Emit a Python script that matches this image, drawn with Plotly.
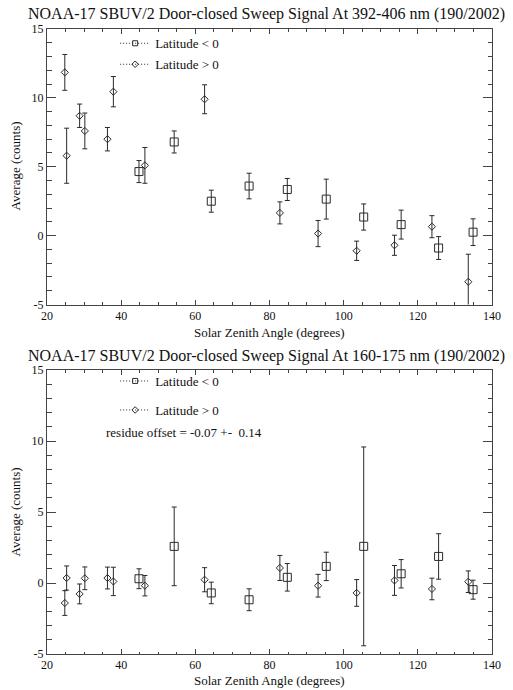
import plotly.graph_objects as go

# ---- Solar zenith angle bins (degrees) ----
SZA_SOUTH = [44.8, 54.3, 64.3, 74.5, 84.8, 95.3, 105.4, 115.5, 125.6, 134.9]
SZA_NORTH = [24.8, 25.3, 28.8, 30.2, 36.3, 37.9, 46.4, 62.5, 82.8, 93.1, 103.5, 113.7, 123.8, 133.6]

# ---- 392-406 nm averages (counts) and 1-sigma errors ----
UV_SOUTH = [4.65, 6.8, 2.5, 3.6, 3.35, 2.65, 1.35, 0.8, -0.9, 0.25]
UV_SOUTH_ERR = [0.8, 0.8, 0.8, 0.93, 0.8, 1.45, 0.95, 1.05, 0.83, 0.97]
UV_NORTH = [11.85, 5.8, 8.7, 7.6, 7.0, 10.45, 5.1, 9.9, 1.65, 0.15, -1.1, -0.7, 0.65, -3.35]
UV_NORTH_ERR = [1.3, 2.0, 0.85, 1.3, 0.85, 1.1, 1.3, 1.05, 0.8, 0.95, 0.7, 0.73, 0.8, 2.0]

# ---- 160-175 nm averages (counts) and 1-sigma errors ----
FUV_SOUTH = [0.3, 2.58, -0.7, -1.18, 0.4, 1.17, 2.58, 0.65, 1.87, -0.47]
FUV_SOUTH_ERR = [0.7, 2.77, 0.76, 0.77, 0.97, 1.0, 7.0, 1.0, 1.6, 0.67]
FUV_NORTH = [-1.41, 0.35, -0.77, 0.33, 0.35, 0.11, -0.19, 0.23, 1.06, -0.19, -0.7, 0.18, -0.42, 0.09]
FUV_NORTH_ERR = [0.87, 0.85, 0.7, 0.8, 0.77, 1.0, 0.72, 0.85, 0.88, 0.8, 0.94, 1.05, 0.76, 0.76]

# ---- axis ticks ----
X_RANGE = [20, 140]
Y_RANGE = [-5, 15]
X_TICKS = [20, 40, 60, 80, 100, 120, 140]
Y_TICKS = [-5, 0, 5, 10, 15]
Y_TICK_TEXT = ["-5", "0", "5", "10", "15"]

# ---- text ----
TITLE_UV = "NOAA-17 SBUV/2 Door-closed Sweep Signal At 392-406 nm (190/2002)"
TITLE_FUV = "NOAA-17 SBUV/2 Door-closed Sweep Signal At 160-175 nm (190/2002)"
X_TITLE = "Solar Zenith Angle (degrees)"
Y_TITLE = "Average (counts)"
LABEL_SOUTH = "Latitude < 0"
LABEL_NORTH = "Latitude > 0"
RESIDUE_TEXT = "residue offset = -0.07 +- \u00a00.14"

FONT = "Liberation Serif, Times New Roman, serif"
INK = "#2a2a2a"

fig = go.Figure()


def add_panel(xa, ya, sza_s, val_s, err_s, sza_n, val_n, err_n, leg_s, leg_n):
    for sza, val, err, sym, size in (
        (sza_s, val_s, err_s, "square-open", 8),
        (sza_n, val_n, err_n, "diamond-open", 5.5),
    ):
        fig.add_trace(go.Scatter(
            x=sza, y=val, mode="markers", xaxis=xa, yaxis=ya, showlegend=False,
            marker=dict(symbol=sym, size=size, color=INK, line=dict(width=1, color=INK)),
            error_y=dict(type="data", array=err, visible=True, color=INK,
                         thickness=1, width=2.5),
            cliponaxis=True,
        ))
    # legend keys: dotted line through a small symbol
    for name, sym, leg in ((LABEL_SOUTH, "square-open", leg_s), (LABEL_NORTH, "diamond-open", leg_n)):
        fig.add_trace(go.Scatter(
            x=[None], y=[None], mode="lines+markers", name=name, xaxis=xa, yaxis=ya,
            legend=leg, showlegend=True,
            line=dict(color=INK, width=1, dash="1px,2px"),
            marker=dict(symbol=sym, size=5, color=INK, line=dict(width=1, color=INK)),
        ))


add_panel("x", "y", SZA_SOUTH, UV_SOUTH, UV_SOUTH_ERR, SZA_NORTH, UV_NORTH, UV_NORTH_ERR,
          "legend", "legend2")
add_panel("x2", "y2", SZA_SOUTH, FUV_SOUTH, FUV_SOUTH_ERR, SZA_NORTH, FUV_NORTH, FUV_NORTH_ERR,
          "legend3", "legend4")

axis_common = dict(
    showline=True, linecolor="#444", linewidth=1, mirror="ticks",
    showgrid=False, zeroline=False, ticks="inside", tickcolor="#444", tickwidth=1,
    tickfont=dict(family=FONT, size=12, color="#111"),
)
x_common = dict(axis_common, range=X_RANGE, tickvals=X_TICKS, ticklen=5,
                minor=dict(dtick=5, ticklen=2.5, ticks="inside", tickcolor="#444", showgrid=False))
y_common = dict(axis_common, range=Y_RANGE, tickvals=Y_TICKS, ticktext=Y_TICK_TEXT, ticklen=9,
                minor=dict(dtick=1, ticklen=4.5, ticks="inside", tickcolor="#444", showgrid=False))

legend_common = dict(
    xanchor="left", yanchor="middle", bgcolor="rgba(0,0,0,0)", borderwidth=0,
    font=dict(family=FONT, size=13, color="#111"),
)
LEG_X = 0.1531

fig.update_layout(
    width=513, height=690,
    margin=dict(l=47, r=15, t=29, b=36),
    paper_bgcolor="white", plot_bgcolor="white",
    xaxis=dict(x_common, domain=[0, 1], anchor="y"),
    yaxis=dict(y_common, domain=[0.5592, 1.0], anchor="x"),
    xaxis2=dict(x_common, domain=[0, 1], anchor="y2"),
    yaxis2=dict(y_common, domain=[0.0, 0.4544], anchor="x2"),
    legend=dict(legend_common, x=LEG_X, y=0.9771),
    legend2=dict(legend_common, x=LEG_X, y=0.9435),
    legend3=dict(legend_common, x=LEG_X, y=0.4368),
    legend4=dict(legend_common, x=LEG_X, y=0.3904),
)

ann_font = dict(family=FONT, color="#111")
annotations = [
    dict(text=TITLE_UV, x=0.4937, y=1.024, font=dict(ann_font, size=16)),
    dict(text=TITLE_FUV, x=0.4937, y=0.4776, font=dict(ann_font, size=16)),
    dict(text=X_TITLE, x=0.5, y=0.5144, font=dict(ann_font, size=13)),
    dict(text=X_TITLE, x=0.5, y=-0.0432, font=dict(ann_font, size=13)),
    dict(text=Y_TITLE, x=-0.0688, y=0.7808, textangle=-90, font=dict(ann_font, size=13)),
    dict(text=Y_TITLE, x=-0.0688, y=0.2272, textangle=-90, font=dict(ann_font, size=13)),
    dict(text=RESIDUE_TEXT, x=0.127, y=0.3541, xanchor="left", font=dict(ann_font, size=13)),
]
for a in annotations:
    a.setdefault("xanchor", "center")
    fig.add_annotation(dict(a, xref="paper", yref="paper", yanchor="middle", showarrow=False))

fig.write_html("out.html")
